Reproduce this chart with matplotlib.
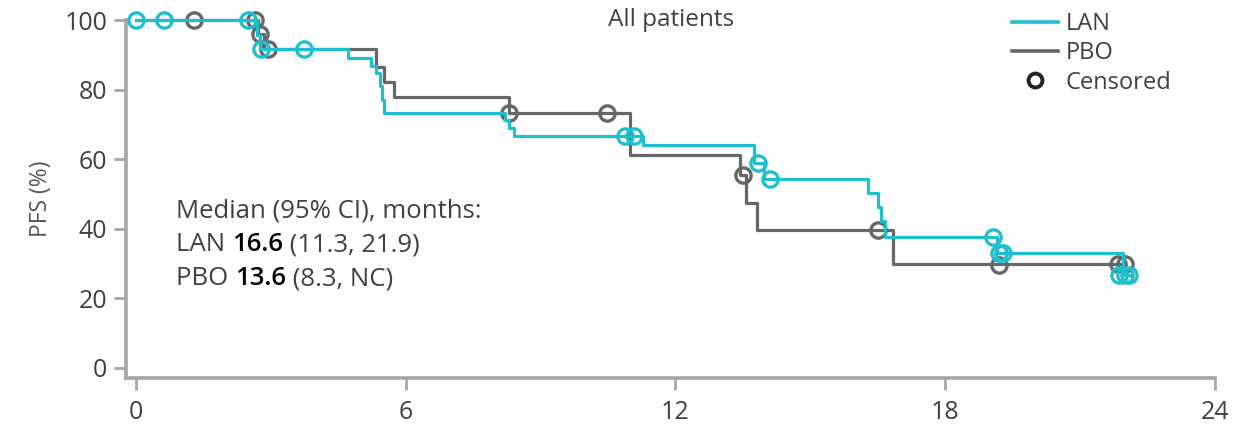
import matplotlib
matplotlib.use("Agg")
import matplotlib.pyplot as plt
from matplotlib.lines import Line2D

# ---- Kaplan-Meier data: PFS (%) versus time (months) ----
lan_event_months = [2.70, 2.76, 4.72, 5.22, 5.33, 5.43, 5.48, 5.52, 8.22, 8.29,
                    8.40, 11.27, 13.74, 13.96, 16.28, 16.50, 16.57, 16.65,
                    19.15, 21.95]
lan_pfs = [95.8, 91.7, 89.0, 86.8, 84.8, 81.0, 77.0, 73.4, 71.3, 69.0,
           66.7, 64.2, 58.9, 54.3, 50.3, 46.3, 42.3, 37.7,
           33.0, 26.7]
lan_last_month = 22.1
lan_censor_months = [0.0, 0.62, 2.49, 2.78, 3.74, 10.87, 11.07, 13.83, 14.10,
                     19.06, 19.20, 19.29, 21.87, 22.00, 22.09]
lan_censor_pfs = [100, 100, 100, 91.7, 91.7, 66.7, 66.7, 58.9, 54.3,
                  37.7, 33.0, 33.0, 26.7, 26.7, 26.7]

pbo_event_months = [2.72, 2.86, 5.34, 5.52, 5.73, 8.29, 10.98, 13.44, 13.58,
                    13.82, 16.84]
pbo_pfs = [96.0, 91.8, 86.6, 82.3, 78.0, 73.3, 61.2, 55.5, 47.5, 39.7, 30.0]
pbo_last_month = 22.0
pbo_censor_months = [1.29, 2.65, 2.76, 2.94, 8.29, 10.48, 13.50, 16.50,
                     19.20, 21.85, 22.00]
pbo_censor_pfs = [100, 100, 96.0, 91.8, 73.3, 73.3, 55.5, 39.7,
                  29.6, 30.0, 30.0]

x_ticks = [0, 6, 12, 18, 24]
y_ticks = [0, 20, 40, 60, 80, 100]

LAN_COLOR = "#1fbfcd"
PBO_COLOR = "#676767"
AXIS_COLOR = "#a6a6a6"
TEXT_COLOR = "#404040"
FONT = "Open Sans"

plt.rcParams["font.family"] = [FONT, "DejaVu Sans"]

W, H = 1237, 428
fig = plt.figure(figsize=(W / 100, H / 100), dpi=100)
ax = fig.add_axes([126 / W, 1 - 378 / H, (1215 - 126) / W, (378 - 20) / H])


def km_steps(events, surv, last):
    t = [0.0] + list(events) + [last]
    s = [100.0] + list(surv) + [surv[-1]]
    return t, s


t_p, s_p = km_steps(pbo_event_months, pbo_pfs, pbo_last_month)
t_l, s_l = km_steps(lan_event_months, lan_pfs, lan_last_month)

ax.step(t_p, s_p, where="post", color=PBO_COLOR, lw=2.3, zorder=3,
        clip_on=False)
ax.plot(pbo_censor_months, pbo_censor_pfs, "o", ms=11, mfc="none",
        mec=PBO_COLOR, mew=2.4, zorder=3, clip_on=False)
ax.step(t_l, s_l, where="post", color=LAN_COLOR, lw=2.3, zorder=4,
        clip_on=False)
ax.plot(lan_censor_months, lan_censor_pfs, "o", ms=11, mfc="none",
        mec=LAN_COLOR, mew=2.4, zorder=4, clip_on=False)

ax.set_xlim(-0.22, 24)
ax.set_ylim(-2.9, 100)
ax.set_xticks(x_ticks)
ax.set_yticks(y_ticks)
for side in ("top", "right"):
    ax.spines[side].set_visible(False)
for side in ("left", "bottom"):
    ax.spines[side].set_color(AXIS_COLOR)
    ax.spines[side].set_linewidth(2.6)
ax.tick_params(axis="both", colors=AXIS_COLOR, width=2.0, length=8.5,
               labelcolor=TEXT_COLOR, labelsize=18)
ax.tick_params(axis="y", pad=5)
ax.tick_params(axis="x", pad=7)

ax.set_ylabel("PFS (%)", fontsize=16.5, color="#555555", labelpad=8)
ax.text(0.5007, 1.0, "All patients", transform=ax.transAxes, ha="center",
        va="center", fontsize=17.5, color=TEXT_COLOR)

handles = [
    Line2D([], [], color=LAN_COLOR, lw=2.6),
    Line2D([], [], color=PBO_COLOR, lw=2.6),
    Line2D([], [], ls="none", marker="o", ms=10, mfc="none", mec="#222222",
           mew=2.8),
]
fig.legend(handles, ["LAN", "PBO", "Censored"], loc="upper left",
           bbox_to_anchor=(991 / W, 1 + 9 / H), frameon=False,
           fontsize=17, handlelength=1.95, handletextpad=0.3,
           labelspacing=0.22, labelcolor=TEXT_COLOR)


# Median PFS summary with bold point estimates, drawn as consecutive runs
def text_runs(x_px, y_px, pieces, size=18.5):
    last = None
    for txt, bold in pieces:
        kw = dict(fontsize=size, color="black" if bold else TEXT_COLOR,
                  fontweight="semibold" if bold else "normal", va="bottom",
                  ha="left")
        if last is None:
            last = fig.text(x_px / W, 1 - y_px / H, txt, **kw)
        else:
            last = ax.annotate(txt, xy=(1, 0), xycoords=last, **kw)


text_runs(176, 223, [("Median (95% CI), months:", False)])
text_runs(176, 257, [("LAN ", False), ("16.6", True), (" (11.3, 21.9)", False)])
text_runs(176, 291, [("PBO ", False), ("13.6", True), (" (8.3, NC)", False)])

fig.savefig("out.png", dpi=100)
